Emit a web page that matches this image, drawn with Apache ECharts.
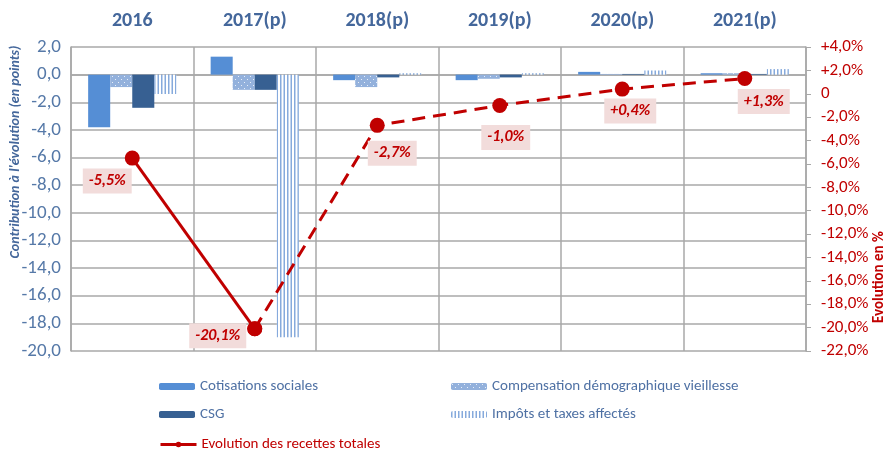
<!DOCTYPE html>
<html>
<head>
<meta charset="utf-8">
<script src="https://cdn.jsdelivr.net/npm/echarts@6/dist/echarts.min.js"></script>
<style>
  html, body { margin: 0; padding: 0; background: #fff; }
  #chart { width: 885px; height: 450px; }
</style>
</head>
<body>
<div id="chart"></div>
<script>
// années (catégories)
var years = ['2016', '2017(p)', '2018(p)', '2019(p)', '2020(p)', '2021(p)'];

// contributions en points (axe de gauche)
var cotisations = [-3.8, 1.3, -0.4, -0.4, 0.2, 0.1];
var compensation = [-0.9, -1.1, -0.9, -0.3, 0.05, 0.1];
var csg = [-2.4, -1.1, -0.2, -0.2, 0.05, 0.05];
var impots = [-1.4, -19.0, 0.1, 0.1, 0.3, 0.4];

// évolution des recettes totales en % (axe de droite)
var evolution = [-5.5, -20.1, -2.7, -1.0, 0.4, 1.3];

// décalage des étiquettes par rapport aux points
var labelOffsets = [[-25, 23], [-37, 7], [15, 28], [6, 32], [8, 22], [19, 23]];

var FONT = "Carlito, 'Open Sans', sans-serif";
var RED = '#C00000';
var BLUE_TXT = '#4F71A4';
var GRID = '#A8A8A8';

// motifs (pointillés et rayures)
function dotPattern() {
  var c = document.createElement('canvas');
  c.width = 6; c.height = 6;
  var g = c.getContext('2d');
  g.fillStyle = '#93B1DC';
  g.fillRect(0, 0, 6, 6);
  g.fillStyle = '#E8EFF9';
  g.fillRect(1, 1, 1, 1);
  g.fillRect(4, 4, 1, 1);
  return c;
}
function stripePattern() {
  var c = document.createElement('canvas');
  c.width = 7; c.height = 4;
  var g = c.getContext('2d');
  g.fillStyle = '#ffffff';
  g.fillRect(0, 0, 7, 4);
  g.fillStyle = '#86AADC';
  g.fillRect(0, 0, 1.5, 4);
  g.fillRect(3.5, 0, 1.5, 4);
  return c;
}

function fmtPct(v) {
  var s = v.toFixed(1).replace('.', ',');
  return (v > 0 ? '+' : '') + s + '%';
}

function lineData(from, to) {
  return evolution.map(function (v, i) {
    if (i < from || i > to) return null;
    var item = { value: v };
    if (i === from && from > 0) {
      item.label = { show: false };
    } else {
      item.label = { offset: labelOffsets[i] };
    }
    return item;
  });
}

var labelStyle = {
  show: true,
  position: 'inside',
  formatter: function (p) { return fmtPct(p.value); },
  color: RED,
  fontFamily: FONT,
  fontSize: 16,
  fontWeight: 'bold',
  fontStyle: 'italic',
  backgroundColor: '#F2DCDB',
  padding: [5, 6, 4, 6]
};

var chart = echarts.init(document.getElementById('chart'));

var legendItems = [
  { name: 'Cotisations sociales', left: 159, top: 379, color: BLUE_TXT },
  { name: 'CSG', left: 159, top: 407, color: BLUE_TXT },
  { name: 'Evolution des recettes totales', left: 159, top: 437, color: RED },
  { name: 'Compensation démographique vieillesse', left: 451, top: 379, color: BLUE_TXT },
  { name: 'Impôts et taxes affectés', left: 451, top: 407, color: BLUE_TXT }
];

var option = {
  animation: false,
  textStyle: { fontFamily: FONT },
  grid: { left: 71, right: 79, top: 47, bottom: 99 },
  legend: legendItems.map(function (l) {
    return {
      data: [l.name],
      left: l.left,
      top: l.top,
      itemWidth: 36,
      itemHeight: 7,
      itemGap: 5,
      padding: 0,
      selectedMode: false,
      lineStyle: { width: 3 },
      textStyle: { color: l.color, fontSize: 15, fontFamily: FONT }
    };
  }),
  graphic: [
    {
      type: 'text', x: 15, y: 152, rotation: Math.PI / 2,
      style: {
        text: "Contribution à l'évolution (en points)",
        fill: '#44679B', font: "italic bold 14px " + FONT,
        align: 'center', verticalAlign: 'middle'
      }
    },
    {
      type: 'text', x: 879, y: 277, rotation: Math.PI / 2,
      style: {
        text: 'Evolution en %',
        fill: RED, font: "bold 15px " + FONT,
        align: 'center', verticalAlign: 'middle'
      }
    }
  ],
  xAxis: {
    type: 'category',
    position: 'top',
    data: years,
    axisLine: { show: true, lineStyle: { color: GRID, width: 1.5 } },
    axisTick: { show: false },
    axisLabel: { color: '#44679B', fontSize: 20, fontWeight: 'bold', margin: 16, fontFamily: FONT },
    splitLine: { show: true, lineStyle: { color: GRID, width: 1.5 } }
  },
  yAxis: [
    {
      type: 'value',
      min: -20, max: 2, interval: 2,
      axisLine: { show: true, lineStyle: { color: GRID, width: 1.5 } },
      axisTick: { show: false },
      axisLabel: {
        color: '#5679A8', fontSize: 19, margin: 10, fontFamily: FONT,
        formatter: function (v) { return v.toFixed(1).replace('.', ','); }
      },
      splitLine: { show: true, lineStyle: { color: GRID, width: 1.5 } }
    },
    {
      type: 'value',
      min: -22, max: 4, interval: 2,
      axisLine: { show: true, lineStyle: { color: GRID, width: 1.5 } },
      axisTick: { show: true, length: 5, lineStyle: { color: GRID } },
      axisLabel: {
        color: RED, fontSize: 17, margin: 15, fontFamily: FONT,
        formatter: function (v) { return v === 0 ? '0' : fmtPct(v); }
      },
      splitLine: { show: false }
    }
  ],
  series: [
    {
      name: 'Cotisations sociales', type: 'bar', data: cotisations,
      barGap: '0%', barCategoryGap: '28%',
      itemStyle: { color: '#558ED5' }
    },
    {
      name: 'Compensation démographique vieillesse', type: 'bar', data: compensation,
      itemStyle: { color: { image: dotPattern(), repeat: 'repeat' } }
    },
    {
      name: 'CSG', type: 'bar', data: csg,
      itemStyle: { color: '#376092' }
    },
    {
      name: 'Impôts et taxes affectés', type: 'bar', data: impots,
      itemStyle: { color: { image: stripePattern(), repeat: 'repeat' } }
    },
    {
      name: 'Evolution des recettes totales', type: 'line', yAxisIndex: 1,
      data: lineData(0, 1),
      symbol: 'circle', symbolSize: 15,
      lineStyle: { color: RED, width: 3 },
      itemStyle: { color: RED },
      label: labelStyle,
      z: 5
    },
    {
      name: 'Evolution des recettes totales', type: 'line', yAxisIndex: 1,
      data: lineData(1, 5),
      symbol: 'circle', symbolSize: 15,
      lineStyle: { color: RED, width: 3, type: [13, 8] },
      itemStyle: { color: RED },
      label: labelStyle,
      z: 5
    }
  ]
};

chart.setOption(option);
</script>
</body>
</html>
